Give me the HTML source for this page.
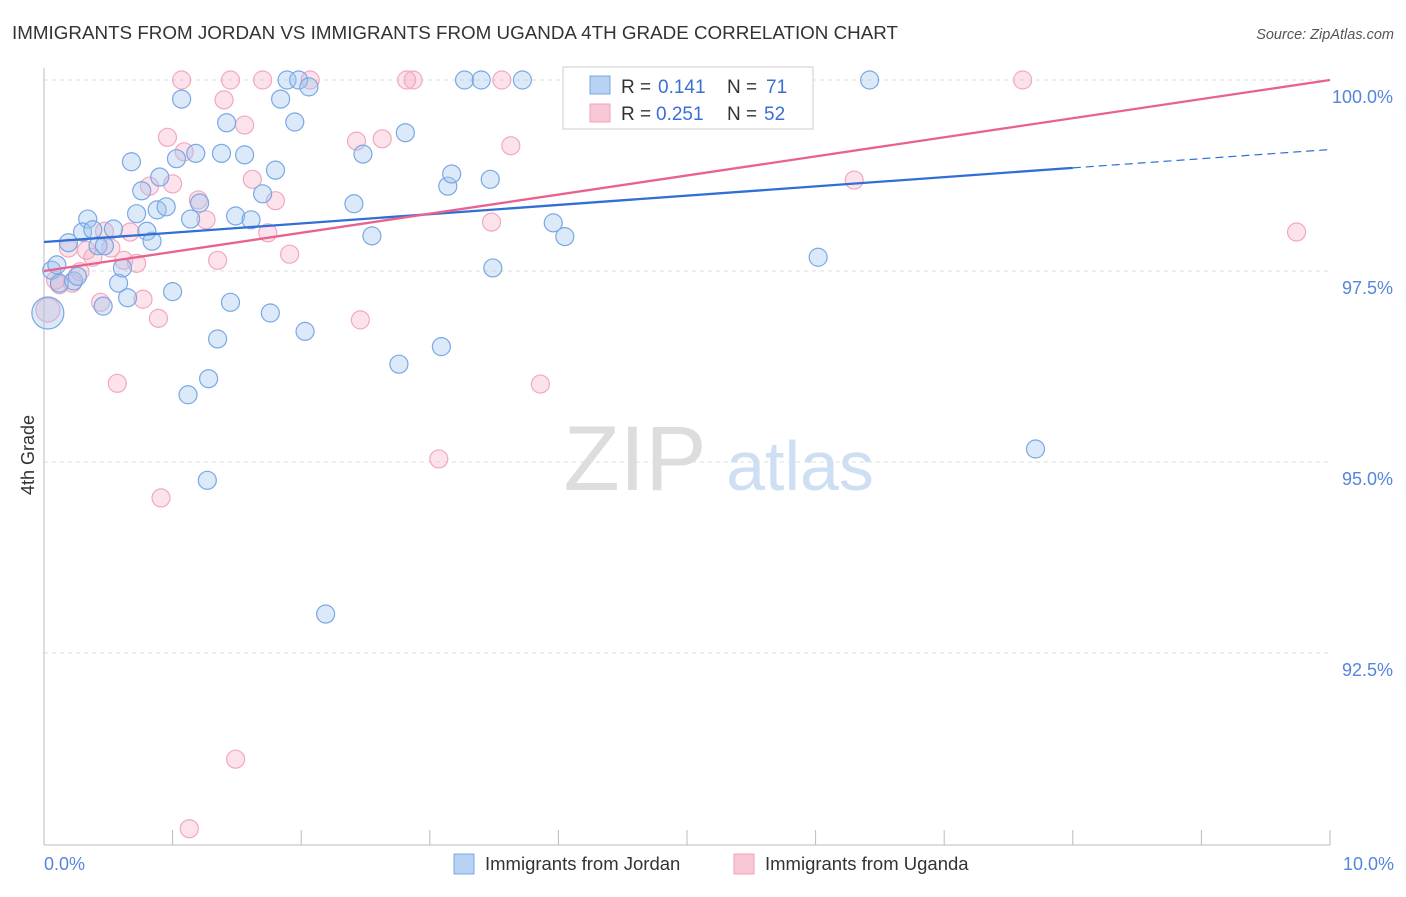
<!DOCTYPE html>
<html><head><meta charset="utf-8"><style>
body{margin:0;background:#fff;font-family:"Liberation Sans",sans-serif}
svg text{font-family:"Liberation Sans",sans-serif}
</style></head><body>
<svg id="c" width="1406" height="892" xmlns="http://www.w3.org/2000/svg">
<text x="12" y="39" font-size="18.8" fill="#333" textLength="886">IMMIGRANTS FROM JORDAN VS IMMIGRANTS FROM UGANDA 4TH GRADE CORRELATION CHART</text>
<text x="1394" y="39" font-size="14.5" fill="#555" font-style="italic" text-anchor="end">Source: ZipAtlas.com</text>
<text x="34" y="455" font-size="18" fill="#333" transform="rotate(-90 34 455)" text-anchor="middle">4th Grade</text>
<g><text x="635" y="490" font-size="92" fill="#ddd" font-family="Liberation Serif" text-anchor="middle">ZIP</text><text x="800" y="490" font-size="70" fill="#cfdff3" text-anchor="middle">atlas</text></g>
<g id="grid"></g><g id="axes"></g><g id="pts"></g><g id="trend"></g>
<g>
<rect x="563" y="67" width="250" height="62" fill="#fff" stroke="#ccc"/>
<rect x="590" y="76" width="20" height="18" fill="#b8d2f4" stroke="#7aa6e0"/>
<text x="621" y="93" font-size="19" fill="#333">R =</text>
<text x="658" y="93" font-size="19" fill="#3a6fd6">0.141</text>
<text x="727" y="93" font-size="19" fill="#333">N =</text>
<text x="766" y="93" font-size="19" fill="#3a6fd6">71</text>
<rect x="590" y="104" width="20" height="18" fill="#f9c8d6" stroke="#f0a0b8"/>
<text x="621" y="120" font-size="19" fill="#333">R =</text>
<text x="656" y="120" font-size="19" fill="#3a6fd6">0.251</text>
<text x="727" y="120" font-size="19" fill="#333">N =</text>
<text x="764" y="120" font-size="19" fill="#3a6fd6">52</text>
</g>
<g>
<rect x="454" y="854" width="20" height="20" fill="#b8d2f4" stroke="#7aa6e0"/>
<text x="485" y="870" font-size="18.5" fill="#333">Immigrants from Jordan</text>
<rect x="734" y="854" width="20" height="20" fill="#f9c8d6" stroke="#f0a0b8"/>
<text x="765" y="870" font-size="18.5" fill="#333">Immigrants from Uganda</text>
</g>
</svg>
<script>
const blueX=[.03,.06,.10,.12,.19,.23,.26,.34,.30,.38,.42,.47,.54,.46,.58,.61,.65,.68,.72,.76,.80,.84,.88,.90,.95,1.00,1.03,1.07,1.12,1.14,1.18,1.21,1.27,1.28,1.35,1.38,1.42,1.45,1.49,1.56,1.61,1.70,1.76,1.80,1.84,1.89,1.95,1.98,2.03,2.06,2.19,2.41,2.48,2.55,2.76,2.81,3.09,3.14,3.17,3.27,3.40,3.47,3.49,3.72,3.96,4.05,6.02,6.42,7.71];
const blueY=[96.95,97.51,97.58,97.34,97.87,97.37,97.43,98.18,98.01,98.04,97.83,97.83,98.05,97.04,97.34,97.54,97.15,98.93,98.25,98.55,98.02,97.89,98.30,98.73,98.34,97.23,98.97,99.75,95.88,98.18,99.04,98.39,94.76,96.09,96.61,99.04,99.44,97.09,98.22,99.02,98.17,98.51,96.95,98.82,99.75,100.0,99.45,100.0,96.71,99.91,93.01,98.38,99.03,97.96,96.28,99.31,96.51,98.61,98.77,100.0,100.0,98.70,97.54,100.0,98.13,97.95,97.68,100.0,95.17];
const pinkX=[.03,.09,.12,.19,.22,.28,.33,.38,.44,.47,.52,.57,.62,.67,.72,.77,.82,.89,.91,.96,1.00,1.07,1.09,1.13,1.20,1.26,1.35,1.40,1.45,1.49,1.56,1.62,1.70,1.74,1.80,1.91,2.07,2.43,2.46,2.63,2.82,2.87,3.07,3.48,3.56,3.63,3.86,5.54,6.30,7.61,9.74];
const pinkY=[96.99,97.38,97.32,97.80,97.34,97.49,97.77,97.68,97.09,98.02,97.80,96.03,97.64,98.01,97.60,97.13,98.61,96.88,94.53,99.25,98.64,100.0,99.06,90.20,98.43,98.17,97.64,99.74,100.0,91.11,99.41,98.70,100.0,98.00,98.42,97.72,100.0,99.20,96.86,99.23,100.0,100.0,95.04,98.14,100.0,99.14,96.02,100.0,98.69,100.0,98.01];
const blueTrend=[97.88,98.85,99.09]; // at x=0, 8, 10
const pinkTrend=[97.50,100.0]; // at x=0, 10
const yTicks=[100,97.5,95,92.5];
const yTickLabels=["100.0%","97.5%","95.0%","92.5%"];
const X=v=>44+v*128.6, Y=v=>80+(100-v)*76.4;
const NS="http://www.w3.org/2000/svg";
function mk(tag,attrs,parent){const e=document.createElementNS(NS,tag);for(const k in attrs)e.setAttribute(k,attrs[k]);document.getElementById(parent).appendChild(e);return e;}
yTicks.forEach((t,i)=>{
 const g=mk('line',{x1:44,x2:1330,y1:Y(t),y2:Y(t),stroke:'#ddd','stroke-dasharray':'4,4'},'grid');
 
 
 const l=mk('text',{x:1393,y:Y(t)+23,'font-size':18,fill:'#5585dc','text-anchor':'end'},'axes');
 l.textContent=yTickLabels[i];
 
 
});
const ax=mk('line',{x1:44,x2:44,y1:68,y2:845,stroke:'#bbb'},'axes');


const bx=mk('line',{x1:44,x2:1330,y1:845,y2:845,stroke:'#bbb'},'axes');


for(let i=0;i<=10;i++){const t=mk('line',{x1:X(i),x2:X(i),y1:830,y2:845,stroke:'#bbb'},'axes');
 
 }
[[0,"0.0%",'start',44],[10,"10.0%",'end',1394]].forEach(a=>{const t=mk('text',{x:a[3],y:870,'font-size':18,fill:'#5585dc','text-anchor':a[2]},'axes');t.textContent=a[1];
 
 });
pinkX.forEach((x,i)=>{const c=mk('circle',{cx:X(x),cy:Y(pinkY[i]),r:i==0?12:9,fill:'rgba(246,170,195,0.33)',stroke:'#f2a8be','stroke-width':1.2},'pts');
 
 });
blueX.forEach((x,i)=>{const c=mk('circle',{cx:X(x),cy:Y(blueY[i]),r:i==0?16:9,fill:'rgba(160,196,240,0.38)',stroke:'#7aa8e4','stroke-width':1.2},'pts');
 
 });
const b1=mk('line',{x1:X(0),y1:Y(blueTrend[0]),x2:X(8),y2:Y(blueTrend[1]),stroke:'#2f6fd6','stroke-width':2.3},'trend');


const b2=mk('line',{x1:X(8),y1:Y(blueTrend[1]),x2:X(10),y2:Y(blueTrend[2]),stroke:'#2f6fd6','stroke-width':1.2,'stroke-dasharray':'8,5'},'trend');


const p1=mk('line',{x1:X(0),y1:Y(pinkTrend[0]),x2:X(10),y2:Y(pinkTrend[1]),stroke:'#e8628e','stroke-width':2.3},'trend');


</script>
</body></html>
